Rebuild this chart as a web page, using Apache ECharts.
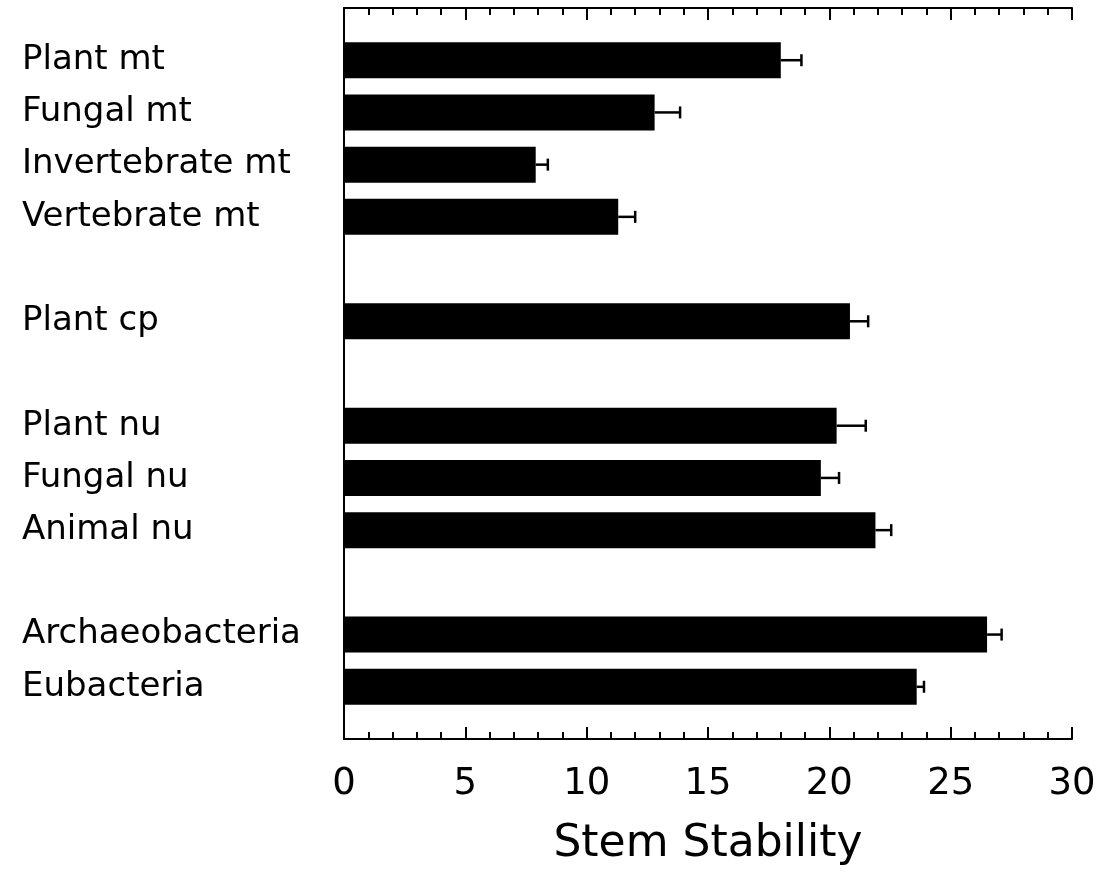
<!DOCTYPE html>
<html>
<head>
<meta charset="utf-8">
<title>Stem Stability</title>
<script src="https://cdn.jsdelivr.net/npm/echarts@6/dist/echarts.min.js"></script>
<style>
  html, body { margin: 0; padding: 0; background: #fff; }
  #chart { width: 1103px; height: 880px; }
</style>
</head>
<body>
<div id="chart"></div>
<script>
// row slots from top to bottom, '' = empty gap between groups
var slots = ['', 'Plant mt', 'Fungal mt', 'Invertebrate mt', 'Vertebrate mt', '',
             'Plant cp', '', 'Plant nu', 'Fungal nu', 'Animal nu', '',
             'Archaeobacteria', 'Eubacteria', ''];
var stability = [null, 18.0, 12.8, 7.9, 11.3, null,
                 20.85, null, 20.3, 19.65, 21.9, null,
                 26.5, 23.6, null];
var stdErr = [null, 0.85, 1.05, 0.5, 0.7, null,
              0.75, null, 1.2, 0.75, 0.65, null,
              0.6, 0.3, null];
var xTicks = [0, 5, 10, 15, 20, 25, 30];

var font = 'DejaVu Sans';

var errData = [];
for (var i = 0; i < slots.length; i++) {
  if (stability[i] != null) errData.push([i, stability[i], stdErr[i]]);
}

var chart = echarts.init(document.getElementById('chart'));

var xCommon = {
  type: 'value',
  min: xTicks[0],
  max: xTicks[xTicks.length - 1],
  interval: 5,
  axisLine: { show: true, lineStyle: { color: '#000', width: 2 } },
  axisTick: { show: true, inside: true, length: 12, lineStyle: { color: '#000', width: 2 } },
  minorTick: { show: true, splitNumber: 5, length: 7, lineStyle: { color: '#000', width: 2 } },
  splitLine: { show: false }
};

chart.setOption({
  backgroundColor: '#fff',
  animation: false,
  grid: { left: 344, right: 31, top: 8, bottom: 141 },
  xAxis: [
    Object.assign({}, xCommon, {
      position: 'bottom',
      name: 'Stem Stability',
      nameLocation: 'middle',
      nameGap: 84,
      nameTextStyle: { fontFamily: font, fontSize: 44, color: '#000' },
      axisLabel: { fontFamily: font, fontSize: 37, color: '#000', margin: 27 }
    }),
    Object.assign({}, xCommon, {
      position: 'top',
      axisLabel: { show: false }
    })
  ],
  yAxis: [
    {
      type: 'category',
      data: slots,
      inverse: true,
      boundaryGap: false,
      axisLine: { show: true, lineStyle: { color: '#000', width: 2 } },
      axisTick: { show: false },
      axisLabel: {
        fontFamily: font, fontSize: 34, color: '#000',
        align: 'left', margin: 322, interval: 0,
        padding: [0, 0, 20, 0]
      }
    },
    {
      type: 'category',
      data: slots,
      inverse: true,
      boundaryGap: false,
      position: 'right',
      axisLine: { show: true, lineStyle: { color: '#000', width: 2 } },
      axisTick: { show: false },
      axisLabel: { show: false }
    }
  ],
  series: [
    {
      type: 'bar',
      data: stability,
      barWidth: 36,
      itemStyle: { color: '#000' }
    },
    {
      type: 'custom',
      data: errData,
      encode: { x: 1, y: 0 },
      renderItem: function (params, api) {
        var idx = api.value(0);
        var v = api.value(1);
        var e = api.value(2);
        var p0 = api.coord([v, idx]);
        var p1 = api.coord([v + e, idx]);
        var style = { stroke: '#000', lineWidth: 2.5 };
        return {
          type: 'group',
          children: [
            { type: 'line', shape: { x1: p0[0], y1: p0[1], x2: p1[0], y2: p1[1] }, style: style },
            { type: 'line', shape: { x1: p1[0], y1: p1[1] - 6, x2: p1[0], y2: p1[1] + 6 }, style: style }
          ]
        };
      },
      z: 3
    }
  ]
});
</script>
</body>
</html>
